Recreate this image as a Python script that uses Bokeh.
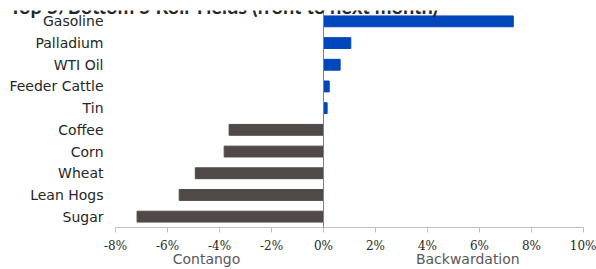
from bokeh.plotting import figure
from bokeh.models import (FactorRange, Range1d, Span, Label, FixedTicker,
                          ColumnDataSource, LinearAxis)
from bokeh.core.properties import value
from bokeh.embed import file_html
from bokeh.resources import INLINE

commodities = ["Gasoline", "Palladium", "WTI Oil", "Feeder Cattle", "Tin",
               "Coffee", "Corn", "Wheat", "Lean Hogs", "Sugar"]
roll_yield = [7.3, 1.05, 0.64, 0.22, 0.14, -3.63, -3.82, -4.93, -5.55, -7.17]
x_ticks = [-8, -6, -4, -2, 0, 2, 4, 6, 8, 10]
x_tick_labels = ["-8%", "-6%", "-4%", "-2%", "0%", "2%", "4%", "6%", "8%", "10%"]
x_min, x_max = -8, 10
title_text = "Top 5/Bottom 5 Roll Yields (front to next month)"
side_labels = ["Contango", "Backwardation"]
side_label_pos = [-4.5, 5.55]

BLUE = "#0047BB"
DARK = "#4F4A47"

W, H = 596, 269
FRAME_L, FRAME_R = 115, 583          # pixel extent of the value axis
px_per_unit = (FRAME_R - FRAME_L) / (x_max - x_min)
x_start = x_min - FRAME_L / px_per_unit   # room for category labels inside the frame

factors = list(reversed(commodities))
colors = [BLUE if v >= 0 else DARK for v in roll_yield]
src = ColumnDataSource(dict(cat=commodities, val=roll_yield, color=colors,
                            lx=[x_min] * len(commodities)))

p = figure(width=W, height=H, output_backend="svg", toolbar_location=None,
           y_range=FactorRange(*factors, range_padding=0),
           x_range=Range1d(x_start, x_max),
           min_border_left=0, min_border_right=W - FRAME_R, min_border_top=10,
           min_border_bottom=40)
p.outline_line_color = None
p.xgrid.grid_line_color = None
p.ygrid.grid_line_color = None
p.yaxis.visible = False

p.hbar(y="cat", left=0, right="val", height=0.5, color="color", source=src)

# category labels
p.text(x="lx", y="cat", text="cat", source=src, x_offset=-12,
       text_align="right", text_baseline="middle",
       text_font=value("DejaVu Sans"), text_font_size=value("14px"),
       text_color="#262626")

p.add_layout(Span(location=0, dimension="height", line_color="#808080", line_width=1))

# x axis
p.xaxis.bounds = (x_min, x_max)
p.xaxis.ticker = FixedTicker(ticks=x_ticks)
p.xaxis.major_label_overrides = {t_: l for t_, l in zip(x_ticks, x_tick_labels)}
p.xaxis.axis_line_color = "#BFBFBF"
p.xaxis.major_tick_line_color = "#BFBFBF"
p.xaxis.major_tick_in = 0
p.xaxis.major_tick_out = 5
p.xaxis.minor_tick_line_color = None
p.xaxis.major_label_standoff = 6
p.xaxis.major_label_text_font = "DejaVu Serif"
p.xaxis.major_label_text_font_size = "12px"
p.xaxis.major_label_text_color = "#262626"

# second axis row carrying the Contango / Backwardation captions
cap = LinearAxis(ticker=FixedTicker(ticks=side_label_pos),
                 major_label_overrides={pos: lab for pos, lab in zip(side_label_pos, side_labels)},
                 axis_line_color=None, major_tick_line_color=None,
                 minor_tick_line_color=None, major_tick_in=0, major_tick_out=0,
                 major_label_standoff=-5,
                 major_label_text_font="DejaVu Sans", major_label_text_font_size="14px",
                 major_label_text_color="#595959")
p.add_layout(cap, "below")

p.add_layout(Label(x=9, y=5, x_units="canvas", y_units="canvas", text=title_text,
                   text_align="left", text_baseline="alphabetic",
                   text_font="Lato", text_font_style="bold", text_font_size="20px",
                   text_color="#262626"))

open("out.html", "w").write(file_html(p, INLINE))
